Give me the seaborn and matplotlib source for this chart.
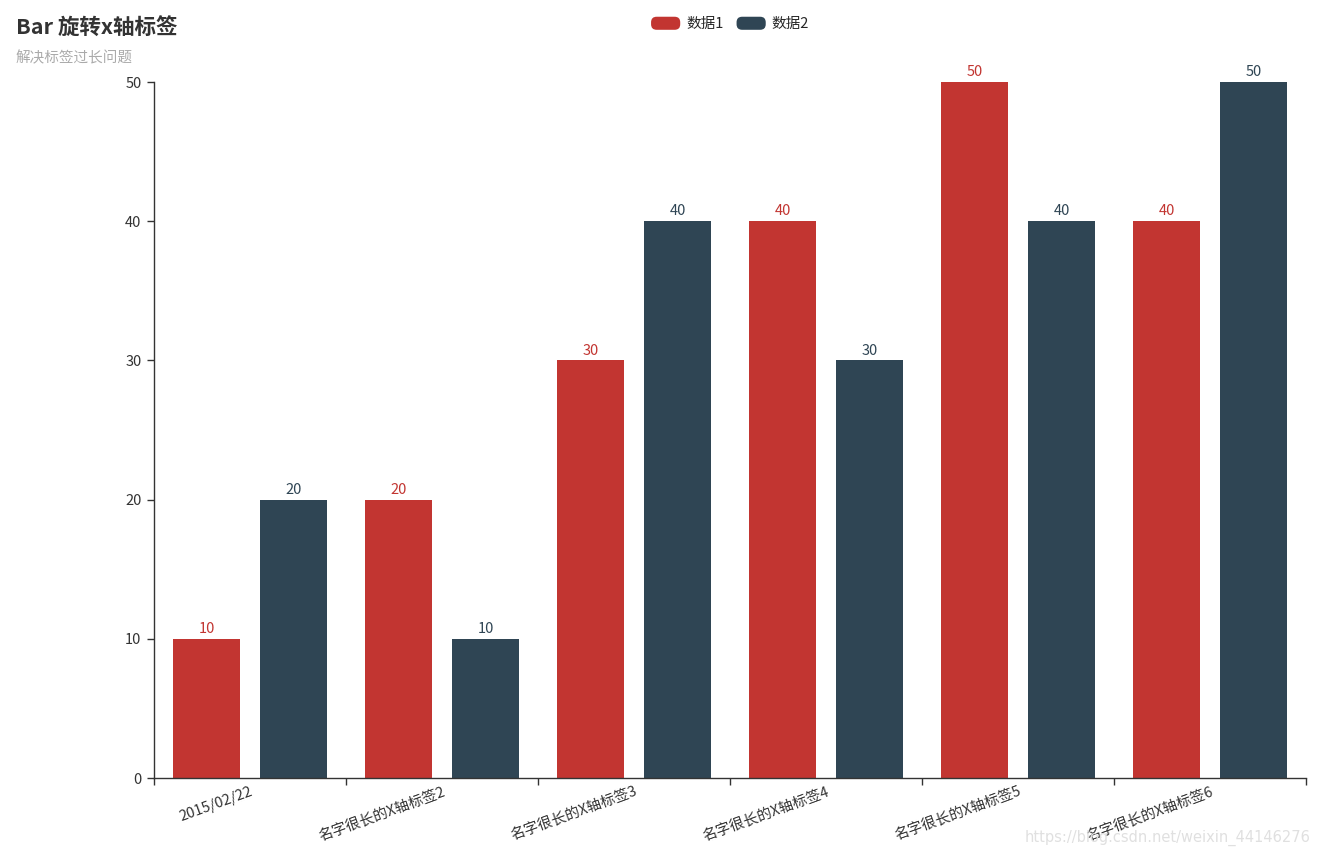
import matplotlib
matplotlib.use("Agg")
import matplotlib.pyplot as plt
import seaborn as sns
import pandas as pd
from matplotlib.patches import Patch, FancyBboxPatch
from matplotlib.legend_handler import HandlerPatch

categories = ["2015/02/22", "名字很长的X轴标签2", "名字很长的X轴标签3",
              "名字很长的X轴标签4", "名字很长的X轴标签5", "名字很长的X轴标签6"]
series_names = ["数据1", "数据2"]
values1 = [10, 20, 30, 40, 50, 40]
values2 = [20, 10, 40, 30, 40, 50]
y_ticks = [0, 10, 20, 30, 40, 50]
colors = ["#c23531", "#2f4554"]

sns.set_theme(style="white")
plt.rcParams["font.family"] = ["Noto Sans CJK SC", "DejaVu Sans"]

df = pd.DataFrame({
    "cat": categories * 2,
    "series": [series_names[0]] * len(categories) + [series_names[1]] * len(categories),
    "value": values1 + values2,
})

fig = plt.figure(figsize=(13.19, 8.57), dpi=100)
ax = fig.add_axes([154 / 1319, 1 - 778 / 857, (1306 - 154) / 1319, (778 - 82) / 857])

sns.barplot(data=df, x="cat", y="value", hue="series", order=categories,
            hue_order=series_names, palette=dict(zip(series_names, colors)),
            width=0.906, gap=0.23, saturation=1, legend=False, ax=ax,
            edgecolor="none", linewidth=0)

for cont, c in zip(ax.containers, colors):
    ax.bar_label(cont, labels=[f"{v:g}" for v in cont.datavalues], padding=2,
                 color=c, fontsize=10.5)

ax.set_xlim(-0.5, len(categories) - 0.5)
ax.set_ylim(0, 50)
ax.set_yticks(y_ticks)
ax.set_yticklabels([str(t) for t in y_ticks], fontsize=10.5, color="#333333")
ax.set_xlabel("")
ax.set_ylabel("")

# category labels at centers, ticks at boundaries
ax.set_xticks(range(len(categories)))
ax.set_xticklabels(categories, rotation=20, ha="right", rotation_mode="anchor",
                   fontsize=10.5, color="#333333")
ax.set_xticks([i - 0.5 for i in range(len(categories) + 1)], minor=True)
ax.tick_params(axis="x", which="major", length=0, pad=5)
ax.tick_params(axis="x", which="minor", length=5, width=1, color="#333333", bottom=True)
ax.tick_params(axis="y", which="major", length=5, width=1, color="#333333", left=True, pad=4)

sns.despine(ax=ax, top=True, right=True)
for s in ["left", "bottom"]:
    ax.spines[s].set_color("#333333")
    ax.spines[s].set_linewidth(1)
ax.grid(False)

fig.text(16 / 1319, 1 - 28 / 857, "Bar 旋转x轴标签", fontsize=15.5, fontweight="bold",
         color="#333333", va="center", ha="left")
fig.text(16 / 1319, 1 - 58 / 857, "解决标签过长问题", fontsize=10.5, color="#aaaaaa",
         va="center", ha="left")


class RoundHandler(HandlerPatch):
    def create_artists(self, legend, orig_handle, xdescent, ydescent, width, height,
                       fontsize, trans):
        p = FancyBboxPatch((-xdescent, -ydescent), width, height,
                           boxstyle="round,pad=0,rounding_size=4",
                           facecolor=orig_handle.get_facecolor(), edgecolor="none",
                           transform=trans)
        return [p]


handles = [Patch(facecolor=c, label=n) for c, n in zip(colors, series_names)]
fig.legend(handles=handles, loc="center", bbox_to_anchor=(730 / 1319, 1 - 24 / 857),
           ncol=2, frameon=False, fontsize=10.5, handlelength=2.0, handleheight=1.0,
           handletextpad=0.4, columnspacing=0.9,
           handler_map={Patch: RoundHandler()})

fig.text(1310 / 1319, 1 - 838 / 857, "https://blog.csdn.net/weixin_44146276",
         fontsize=10.5, color="#e0e0e0", ha="right", va="center", family="Liberation Sans Narrow")

fig.savefig("out.png", dpi=100)
